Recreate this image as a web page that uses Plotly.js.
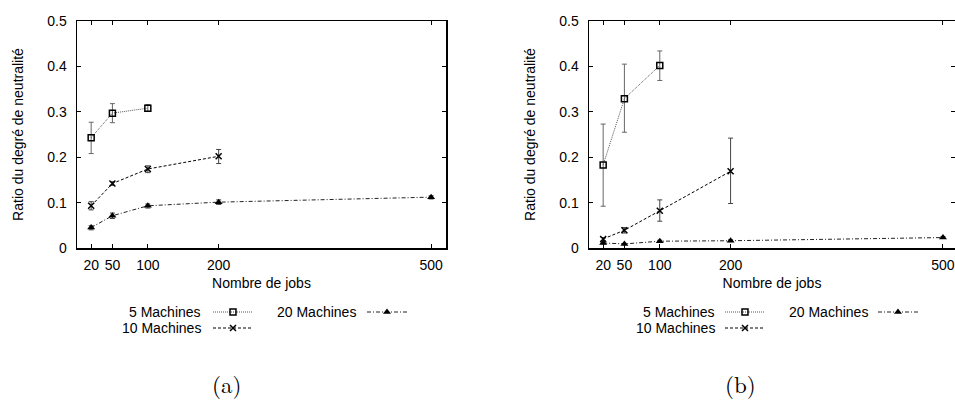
<!DOCTYPE html>
<html>
<head>
<meta charset="utf-8">
<script src="https://cdn.plot.ly/plotly-3.0.1.min.js"></script>
<style>html,body{margin:0;padding:0;background:#fff;}#chart{width:955px;height:405px;}</style>
</head>
<body>
<div id="chart"></div>
<script>
// ---------- data ----------
const jobs = [20, 50, 100, 200, 500];
const tickLabels = ['20', '50', '100', '200', '500'];
const seriesNames = ['5 Machines', '10 Machines', '20 Machines'];

// panel (a)
const a5 = [0.243, 0.297, 0.308];
const a5lo = [0.208, 0.276, 0.301];
const a5hi = [0.277, 0.318, 0.316];
const a10 = [0.093, 0.142, 0.174, 0.202];
const a10lo = [0.084, 0.138, 0.166, 0.186];
const a10hi = [0.102, 0.146, 0.181, 0.217];
const a20 = [0.045, 0.071, 0.093, 0.101, 0.112];
const a20lo = [0.040, 0.065, 0.088, 0.096, 0.108];
const a20hi = [0.049, 0.077, 0.097, 0.106, 0.115];

// panel (b)
const b5 = [0.183, 0.329, 0.402];
const b5lo = [0.092, 0.255, 0.369];
const b5hi = [0.273, 0.405, 0.434];
const b10 = [0.020, 0.039, 0.082, 0.169];
const b10lo = [0.015, 0.033, 0.059, 0.098];
const b10hi = [0.023, 0.045, 0.106, 0.242];
const b20 = [0.011, 0.009, 0.015, 0.016, 0.023];
const b20lo = [0.009, 0.008, 0.013, 0.014, 0.021];
const b20hi = [0.013, 0.010, 0.017, 0.018, 0.025];

// ---------- styles ----------
const styles = [
  {line: {color: '#555', width: 1, dash: '1px,1px'}, marker: {symbol: 'square-open', size: 6, color: '#000', line: {width: 1.5, color: '#000'}}, err: '#666'},
  {line: {color: '#000', width: 1, dash: '3px,2px'}, marker: {symbol: 'x-thin-open', size: 6, color: '#000', line: {width: 1.5, color: '#000'}}, err: '#444'},
  {line: {color: '#222', width: 1, dash: '4px,2px,1px,2px'}, marker: {symbol: 'triangle-up', size: 7, color: '#000'}, err: '#444'}
];

function series(vals, lo, hi, idx, xa, ya) {
  const x = jobs.slice(0, vals.length);
  return {
    type: 'scatter', mode: 'lines+markers', x: x, y: vals,
    xaxis: xa, yaxis: ya, name: seriesNames[idx], showlegend: false,
    line: styles[idx].line, marker: styles[idx].marker,
    error_y: {type: 'data', symmetric: false,
      array: vals.map((v, i) => hi[i] - v),
      arrayminus: vals.map((v, i) => v - lo[i]),
      color: styles[idx].err, thickness: 1, width: 2.5},
    cliponaxis: false
  };
}

const traces = [
  series(a5, a5lo, a5hi, 0, 'x', 'y'),
  series(a10, a10lo, a10hi, 1, 'x', 'y'),
  series(a20, a20lo, a20hi, 2, 'x', 'y'),
  series(b5, b5lo, b5hi, 0, 'x2', 'y2'),
  series(b10, b10lo, b10hi, 1, 'x2', 'y2'),
  series(b20, b20lo, b20hi, 2, 'x2', 'y2')
];

// ---------- legend (gnuplot style: text, then sample) built on a pixel overlay axis ----------
const W = 955, H = 405;
const legends = [
  {textRight: 203, col2Text: 358, sample1: 213, sample2: 367},
  {textRight: 717, col2Text: 870, sample1: 725, sample2: 878}
];
const rowY = [312, 328];
const sampleLen = 40;
const annotations = [];
const legendFont = {family: 'Liberation Sans, Arial, sans-serif', size: 14, color: '#000'};
legends.forEach(L => {
  const entries = [
    {idx: 0, tx: L.textRight, sx: L.sample1, y: rowY[0]},
    {idx: 2, tx: L.col2Text, sx: L.sample2, y: rowY[0]},
    {idx: 1, tx: L.textRight, sx: L.sample1, y: rowY[1]}
  ];
  entries.forEach(e => {
    annotations.push({xref: 'paper', yref: 'paper', x: e.tx / W, y: 1 - e.y / H,
      xanchor: 'right', yanchor: 'middle', showarrow: false, text: seriesNames[e.idx], font: legendFont});
    traces.push({type: 'scatter', mode: 'lines', x: [e.sx, e.sx + sampleLen], y: [e.y, e.y],
      xaxis: 'x3', yaxis: 'y3', showlegend: false, hoverinfo: 'skip', line: styles[e.idx].line});
    traces.push({type: 'scatter', mode: 'markers', x: [e.sx + sampleLen / 2], y: [e.y],
      xaxis: 'x3', yaxis: 'y3', showlegend: false, hoverinfo: 'skip', marker: styles[e.idx].marker});
  });
});

// panel captions
const capFont = {family: 'Latin Modern Roman, DejaVu Serif, Liberation Serif, serif', size: 23, color: '#000'};
annotations.push({xref: 'paper', yref: 'paper', x: 226 / W, y: 1 - 383 / H, xanchor: 'center', yanchor: 'middle', showarrow: false, text: '(a)', font: capFont});
annotations.push({xref: 'paper', yref: 'paper', x: 740 / W, y: 1 - 383 / H, xanchor: 'center', yanchor: 'middle', showarrow: false, text: '(b)', font: capFont});

const tickFont = {family: 'Liberation Sans, Arial, sans-serif', size: 14, color: '#000'};
const titleFont = {family: 'Liberation Sans, Arial, sans-serif', size: 14, color: '#000'};

function xax(domain, range) {
  return {domain: domain, range: range, tickmode: 'array', tickvals: jobs, ticktext: tickLabels,
    ticks: 'inside', ticklen: 4, tickcolor: '#000', tickwidth: 1, showline: true, linecolor: '#000', linewidth: 1.5,
    mirror: 'ticks', showgrid: false, zeroline: false, tickfont: tickFont, ticklabelstandoff: 4,
    title: {text: 'Nombre de jobs', font: titleFont, standoff: 6}};
}
function yax(anchor) {
  return {domain: [1 - 248 / H, 1 - 21 / H], range: [0, 0.5], anchor: anchor, tickmode: 'array',
    tickvals: [0, 0.1, 0.2, 0.3, 0.4, 0.5], ticktext: ['0', '0.1', '0.2', '0.3', '0.4', '0.5'],
    ticks: 'inside', ticklen: 4, tickcolor: '#000', tickwidth: 1, showline: true, linecolor: '#000', linewidth: 1.5,
    mirror: 'ticks', showgrid: false, zeroline: false, tickfont: tickFont, ticklabelstandoff: 6,
    title: {text: 'Ratio du degré de neutralité', font: titleFont, standoff: 20}};
}

const layout = {
  width: W, height: H, margin: {l: 0, r: 0, t: 0, b: 0},
  paper_bgcolor: '#fff', plot_bgcolor: 'rgba(0,0,0,0)', showlegend: false,
  xaxis: Object.assign(xax([77 / W, 446 / W], [0, 521]), {anchor: 'y'}),
  yaxis: yax('x'),
  xaxis2: Object.assign(xax([589 / W, 1], [0, 517]), {anchor: 'y2'}),
  yaxis2: yax('x2'),
  xaxis3: {domain: [0, 1], range: [0, W], visible: false, fixedrange: true, anchor: 'y3'},
  yaxis3: {domain: [0, 1], range: [H, 0], visible: false, fixedrange: true, anchor: 'x3'},
  annotations: annotations
};

Plotly.newPlot('chart', traces, layout, {staticPlot: true, displayModeBar: false});
</script>
</body>
</html>
